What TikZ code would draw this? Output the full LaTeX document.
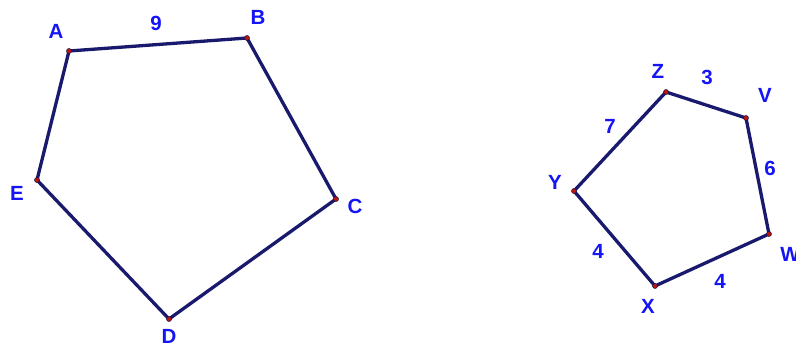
\documentclass[tikz,border=0pt]{standalone}
\usepackage{fontspec}
\setmainfont{Liberation Sans}
\definecolor{lbl}{RGB}{20,20,245}
\definecolor{edge}{RGB}{25,25,110}
\definecolor{pt}{RGB}{190,20,10}
\begin{document}
\begin{tikzpicture}[x=1pt,y=-1pt,
  lab/.style={text=lbl,font=\fontsize{20.5}{20.5}\selectfont\bfseries,inner sep=0pt},
  side/.style={draw=edge,line width=3.3pt,line join=round,line cap=round},
  vtx/.style={circle,fill=pt,draw=edge!70!black,line width=0.5pt,inner sep=0pt,minimum size=5pt}]
\useasboundingbox (0,0) rectangle (796,347);
\clip (0,0) rectangle (796,347);
% left pentagon
\coordinate (A) at (69,51);
\coordinate (B) at (247,38);
\coordinate (C) at (336,199);
\coordinate (D) at (169,319);
\coordinate (E) at (37,180);
\draw[side] (A) -- (B) -- (C) -- (D) -- (E) -- cycle;
\foreach \p in {A,B,C,D,E} \node[vtx] (v\p) at (\p) {};
\node[lab] (lA) at (56,31) {A};
\node[lab] (lB) at (258,17) {B};
\node[lab] (lC) at (355,206) {C};
\node[lab] (lD) at (169,336) {D};
\node[lab] (lE) at (17,193) {E};
\node[lab] (l9) at (156,23) {9};
% right pentagon
\coordinate (Z) at (666,92);
\coordinate (V) at (746,118);
\coordinate (W) at (769,234);
\coordinate (X) at (655,286);
\coordinate (Y) at (574,191);
\draw[side] (Z) -- (V) -- (W) -- (X) -- (Y) -- cycle;
\foreach \p in {Z,V,W,X,Y} \node[vtx] (v\p) at (\p) {};
\node[lab] (lZ) at (658,71) {Z};
\node[lab] (lV) at (765,95) {V};
\node[lab] (lW) at (790,254) {W};
\node[lab] (lX) at (648,306) {X};
\node[lab] (lY) at (555,182) {Y};
\node[lab] (l3) at (707,77) {3};
\node[lab] (l6) at (770,168) {6};
\node[lab] (l4a) at (720,281) {4};
\node[lab] (l4b) at (598,251) {4};
\node[lab] (l7) at (610,126) {7};
\end{tikzpicture}
\end{document}
